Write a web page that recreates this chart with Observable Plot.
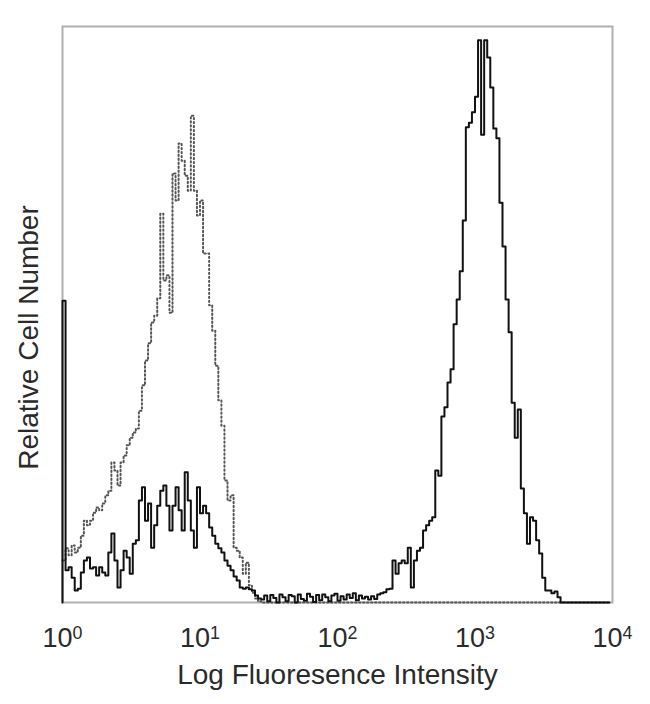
<!DOCTYPE html>
<html>
<head>
<meta charset="utf-8">
<script src="https://cdn.jsdelivr.net/npm/d3@7"></script>
<script src="https://cdn.jsdelivr.net/npm/@observablehq/plot@0.6"></script>
<style>
  html, body { margin: 0; padding: 0; background: #fff; }
  #chart svg { display: block; }
</style>
</head>
<body>
<div id="chart"></div>
<script>
// Histogram channels: 180 log-spaced channels covering 10^0 .. 10^4
const channelCount = 180;
const decades = 4;
const xTicks = [1, 10, 100, 1000, 10000];
const xLabel = "Log Fluoresence Intensity";
const yLabel = "Relative Cell Number";

// Stained sample (solid line), relative counts per channel (0-100 scale)
const solidCounts = [
  52.4, 5.6, 6.1, 4.3, 2.1, 2.4, 5.2, 7.3, 7.8, 5.9,
  6.1, 4.7, 6.1, 5.2, 4.7, 8.7, 12.0, 7.3, 2.6, 5.6,
  9.0, 7.8, 5.0, 10.2, 10.8, 17.7, 20.0, 14.2, 17.2, 9.5,
  13.4, 16.8, 19.4, 20.3, 16.8, 12.5, 16.8, 20.0, 16.0, 12.5,
  22.6, 17.7, 12.5, 9.5, 20.0, 15.5, 16.8, 15.5, 13.0, 11.6,
  10.2, 9.4, 8.7, 7.3, 6.4, 5.6, 4.5, 3.8, 2.6, 2.4,
  2.6, 2.3, 2.1, 1.2, 0.7, 0.5, 1.2, 0.2, 1.3, 0.8,
  0.0, 1.4, 0.9, 0.2, 1.3, 1.1, 0.0, 1.4, 0.6, 0.3,
  1.5, 1.0, 0.1, 1.3, 0.4, 1.4, 0.9, 0.2, 1.2, 1.5,
  0.3, 1.1, 0.5, 1.4, 0.8, 1.6, 0.4, 1.2, 0.7, 1.0,
  0.5, 1.1, 0.6, 1.4, 1.6, 1.8, 2.3, 2.4, 7.3, 5.0,
  6.8, 7.3, 6.8, 9.5, 2.6, 7.3, 9.0, 9.5, 12.5, 13.4,
  14.2, 14.8, 22.9, 22.0, 32.3, 33.9, 38.2, 40.5, 48.3, 52.6,
  57.5, 66.3, 82.5, 83.3, 85.1, 87.8, 97.6, 81.2, 97.6, 94.6,
  89.4, 82.3, 80.6, 69.4, 61.8, 52.6, 46.9, 34.7, 28.6, 33.5,
  19.8, 15.5, 10.2, 14.8, 14.2, 10.8, 8.5, 4.3, 2.1, 2.1,
  1.6, 1.9, 0.9, 0, 0, 0, 0, 0, 0, 0,
  0, 0, 0, 0, 0, 0, 0, 0, 0, 0
];

// Control sample (dotted line)
const dottedCounts = [
  7.3, 9.4, 8.2, 9.9, 8.7, 9.5, 11.6, 14.2, 13.4, 14.2,
  15.6, 16.5, 16.0, 17.2, 18.6, 19.4, 24.3, 22.9, 20.3, 24.3,
  25.5, 27.3, 28.6, 29.5, 30.2, 33.3, 37.7, 42.0, 45.0, 48.6,
  49.8, 52.8, 67.5, 55.9, 56.8, 50.3, 74.5, 69.8, 79.7, 76.7,
  74.1, 71.5, 84.5, 71.5, 67.2, 69.8, 60.6, 60.6, 51.6, 47.2,
  41.1, 35.1, 30.7, 21.2, 17.7, 18.6, 9.5, 9.0, 7.8, 5.0,
  6.9, 3.0, 1.7, 0.7, 0.2, 0, 0, 0, 0, 0,
  0, 0, 0, 0, 0, 0, 0, 0, 0, 0,
  0, 0, 0, 0, 0, 0, 0, 0, 0, 0,
  0, 0, 0, 0, 0, 0, 0, 0, 0, 0,
  0, 0, 0, 0, 0, 0, 0, 0, 0, 0,
  0, 0, 0, 0, 0, 0, 0, 0, 0, 0,
  0, 0, 0, 0, 0, 0, 0, 0, 0, 0,
  0, 0, 0, 0, 0, 0, 0, 0, 0, 0,
  0, 0, 0, 0, 0, 0, 0, 0, 0, 0,
  0, 0, 0, 0, 0, 0, 0, 0, 0, 0,
  0, 0, 0, 0, 0, 0, 0, 0, 0, 0,
  0, 0, 0, 0, 0, 0, 0, 0, 0, 0
];

const channelX = i => Math.pow(10, decades * i / channelCount);
const solid = [{x: 1, y: 0}].concat(solidCounts.map((c, i) => ({x: channelX(i), y: c})));
const dotted = dottedCounts.map((c, i) => ({x: channelX(i), y: c}));

const font = "'Liberation Sans', Arial, sans-serif";

const plot = Plot.plot({
  width: 650,
  height: 704,
  marginLeft: 62,
  marginRight: 38,
  marginTop: 26,
  marginBottom: 102,
  style: {fontFamily: font, color: "#2a2a2a", background: "#fff"},
  x: {type: "log", domain: [1, 10000]},
  y: {domain: [0, 100], axis: null},
  marks: [
    Plot.frame({stroke: "#b0b0b0", strokeWidth: 2}),
    Plot.axisX({
      ticks: xTicks,
      tickSize: 0,
      tickPadding: 25,
      fontSize: 27,
      tickFormat: d => "10^" + Math.round(Math.log10(d)),
      label: null
    }),
    Plot.lineY(dotted, {x: "x", y: "y", curve: "step-after", stroke: "#555",
      strokeWidth: 2, strokeDasharray: "1.4 2.6", strokeLinecap: "round"}),
    Plot.lineY(solid, {x: "x", y: "y", curve: "step-after", stroke: "#111",
      strokeWidth: 2}),
    Plot.text([xLabel], {text: d => d, frameAnchor: "bottom", dy: 81, fontSize: 28, fill: "#2a2a2a"}),
    Plot.text([yLabel], {text: d => d, frameAnchor: "left", textAnchor: "middle", rotate: -90,
      dx: -33, dy: 23, fontSize: 28, fill: "#2a2a2a"})
  ]
});

// render exponents as superscripts
plot.querySelectorAll('g[aria-label="x-axis tick label"] text').forEach(t => {
  const parts = t.textContent.split("^");
  if (parts.length !== 2) return;
  t.textContent = parts[0];
  const sup = document.createElementNS("http://www.w3.org/2000/svg", "tspan");
  sup.setAttribute("dy", "-0.42em");
  sup.setAttribute("font-size", "0.66em");
  sup.textContent = parts[1];
  t.appendChild(sup);
});

document.getElementById("chart").appendChild(plot);
</script>
</body>
</html>
